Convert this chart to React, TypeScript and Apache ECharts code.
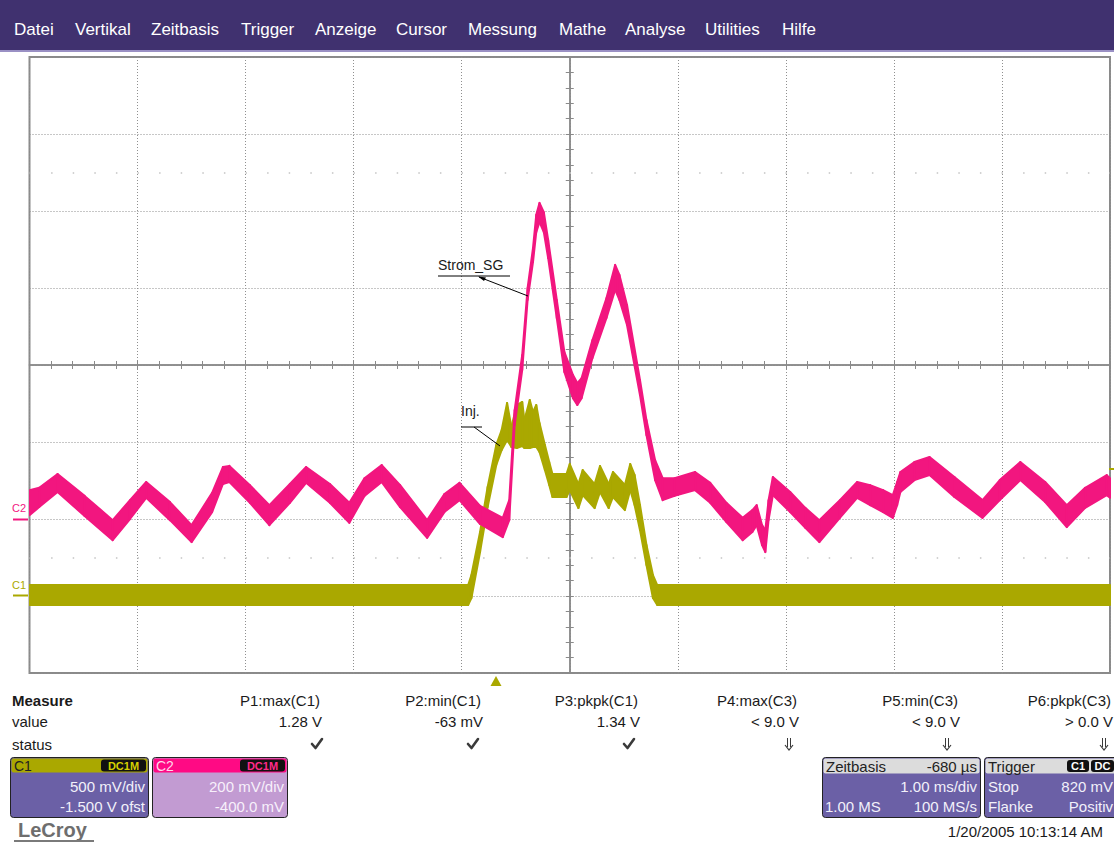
import React, { useEffect, useRef } from 'react';
import * as echarts from 'echarts';

// ---- Data (time in ms relative to screen centre, 1 ms/div; voltages in V) ----
// C2 (Strom_SG) noisy band: upper / lower envelope
const c2Time = [-5.0, -4.91, -4.74, -4.49, -4.23, -4.07, -3.92, -3.70, -3.5, -3.31, -3.21, -3.15, -2.96, -2.78, -2.59, -2.44, -2.22, -2.04, -1.90, -1.74, -1.57, -1.32, -1.16, -1.02, -0.83, -0.62, -0.56, -0.51, -0.44, -0.39, -0.34, -0.31, -0.28, -0.24, -0.20, -0.12, -0.05, 0.03, 0.07, 0.11, 0.21, 0.34, 0.42, 0.46, 0.53, 0.65, 0.71, 0.79, 0.86, 0.97, 1.16, 1.30, 1.45, 1.60, 1.69, 1.73, 1.78, 1.81, 1.84, 1.88, 2.04, 2.18, 2.31, 2.5, 2.66, 2.78, 2.90, 2.99, 3.03, 3.06, 3.19, 3.33, 3.56, 3.82, 3.98, 4.17, 4.40, 4.60, 4.77, 4.97, 5.0];
const c2Upper = [0.075, 0.081, 0.117, 0.060, -0.003, 0.049, 0.096, 0.044, -0.016, 0.068, 0.135, 0.138, 0.088, 0.036, 0.091, 0.135, 0.091, 0.042, 0.106, 0.140, 0.088, -0.003, 0.065, 0.094, 0.034, 0.003, 0.049, 0.283, 0.426, 0.600, 0.704, 0.790, 0.821, 0.797, 0.725, 0.569, 0.434, 0.374, 0.353, 0.366, 0.465, 0.574, 0.660, 0.634, 0.556, 0.361, 0.257, 0.153, 0.106, 0.106, 0.122, 0.094, 0.042, 0.003, 0.023, 0.036, -0.016, -0.029, 0.049, 0.109, 0.070, 0.029, -0.003, 0.049, 0.096, 0.088, 0.075, 0.062, 0.096, 0.122, 0.148, 0.161, 0.109, 0.049, 0.101, 0.148, 0.096, 0.036, 0.081, 0.114, 0.106];
const c2Lower = [0.010, 0.031, 0.070, 0.008, -0.055, 0.000, 0.055, -0.003, -0.060, 0.018, 0.091, 0.096, 0.042, -0.016, 0.042, 0.094, 0.042, -0.010, 0.060, 0.096, 0.031, -0.049, 0.018, 0.049, -0.013, -0.047, -0.003, 0.244, 0.387, 0.569, 0.668, 0.745, 0.771, 0.745, 0.678, 0.522, 0.382, 0.314, 0.296, 0.314, 0.418, 0.522, 0.595, 0.569, 0.504, 0.322, 0.218, 0.101, 0.049, 0.060, 0.075, 0.042, -0.008, -0.055, -0.034, -0.016, -0.068, -0.086, -0.003, 0.062, 0.018, -0.023, -0.060, 0.003, 0.055, 0.036, 0.018, 0.003, 0.036, 0.070, 0.101, 0.114, 0.057, 0.003, 0.049, 0.101, 0.044, -0.021, 0.029, 0.062, 0.055];

// C1 (Inj.) noisy band: upper / lower envelope
const c1Time = [-5.0, -0.94, -0.91, -0.83, -0.76, -0.68, -0.63, -0.58, -0.54, -0.49, -0.44, -0.42, -0.37, -0.34, -0.31, -0.28, -0.23, -0.19, -0.16, -0.03, 0.0, 0.08, 0.12, 0.23, 0.28, 0.36, 0.40, 0.51, 0.56, 0.60, 0.65, 0.71, 0.77, 0.81, 5.0];
const c1Upper = [0.071, 0.071, 0.136, 0.416, 0.708, 0.981, 1.078, 1.253, 1.097, 1.240, 1.260, 1.143, 1.273, 1.195, 1.240, 1.123, 0.981, 0.870, 0.792, 0.792, 0.857, 0.727, 0.818, 0.727, 0.844, 0.727, 0.805, 0.721, 0.857, 0.786, 0.591, 0.331, 0.136, 0.071, 0.071];
const c1Lower = [-0.058, -0.058, -0.013, 0.286, 0.578, 0.851, 0.948, 1.013, 0.968, 0.961, 0.974, 0.961, 0.961, 0.968, 0.968, 0.935, 0.818, 0.721, 0.643, 0.643, 0.688, 0.571, 0.656, 0.571, 0.675, 0.571, 0.643, 0.558, 0.688, 0.591, 0.429, 0.201, -0.013, -0.058, -0.058];

// Channel scales: volts per division and ground position (divisions from centre)
const c1VoltsPerDiv = 0.5;
const c1GroundDiv = -3;
const c2VoltsPerDiv = 0.2;
const c2GroundDiv = -2;

// Texts
const menuItems = ['Datei', 'Vertikal', 'Zeitbasis', 'Trigger', 'Anzeige', 'Cursor', 'Messung', 'Mathe', 'Analyse', 'Utilities', 'Hilfe'];
const measureNames = ['P1:max(C1)', 'P2:min(C1)', 'P3:pkpk(C1)', 'P4:max(C3)', 'P5:min(C3)', 'P6:pkpk(C3)'];
const measureValues = ['1.28 V', '-63 mV', '1.34 V', '< 9.0 V', '< 9.0 V', '> 0.0 V'];
const measureStatus = ['ok', 'ok', 'ok', 'under', 'under', 'under'];

// ---- Layout (pixels) ----
const menuX = [14, 75, 151, 241, 315, 396, 468, 559, 625, 705, 782];
const measureRight = [320, 481, 638, 797, 958, 1111];
const statusX = [317, 473, 629, 789, 947, 1104];

const FONT = '"Liberation Sans", Arial, sans-serif';
const C1_COLOR = '#aaa800';
const C2_COLOR = '#f2167f';
const BOX_BODY = '#6b60a6';

function bandSeries(name: string, time: number[], lower: number[], upper: number[], vpd: number, gnd: number, color: string, z: number) {
  const data = time.map((t, i) => [t, lower[i] / vpd + gnd, upper[i] / vpd + gnd]);
  return {
    type: 'custom',
    name,
    data,
    clip: true,
    z,
    silent: true,
    encode: { x: 0, y: [1, 2] },
    renderItem: (params: any, api: any) => {
      const i = params.dataIndex;
      if (i >= data.length - 1) return null;
      const a = data[i];
      const b = data[i + 1];
      const pts = [
        api.coord([a[0], a[1]]),
        api.coord([b[0], b[1]]),
        api.coord([b[0], b[2]]),
        api.coord([a[0], a[2]]),
      ];
      return {
        type: 'polygon',
        shape: { points: pts },
        style: { fill: color, stroke: color, lineWidth: 2, lineJoin: 'round' },
      };
    },
  };
}

function txt(x: number, y: number, text: string, opts: any = {}) {
  return {
    type: 'text',
    z: opts.z ?? 20,
    style: {
      x,
      y,
      text,
      fill: opts.fill ?? '#1a1a1a',
      font: `${opts.weight ?? 'normal'} ${opts.size ?? 15}px ${opts.family ?? FONT}`,
      textAlign: opts.align ?? 'left',
      textVerticalAlign: 'middle',
    },
  };
}

function rect(x: number, y: number, w: number, h: number, fill: string, r = 0, stroke?: string, z = 15) {
  return {
    type: 'rect',
    z,
    shape: { x, y, width: w, height: h, r },
    style: { fill, stroke: stroke ?? null, lineWidth: stroke ? 1 : 0 },
  };
}

function line(x1: number, y1: number, x2: number, y2: number, stroke: string, w = 1, z = 20) {
  return { type: 'line', z, shape: { x1, y1, x2, y2 }, style: { stroke, lineWidth: w } };
}

function statusIcon(kind: string, x: number, y: number) {
  const c = '#3a3a3a';
  if (kind === 'ok') {
    return [{
      type: 'polyline', z: 20,
      shape: { points: [[x - 5, y], [x - 1.5, y + 4], [x + 5, y - 5]] },
      style: { stroke: c, lineWidth: 2.6, fill: null, lineCap: 'round', lineJoin: 'round' },
    }];
  }
  return [
    line(x - 1.5, y - 6, x - 1.5, y + 3, c, 1),
    line(x + 1.5, y - 6, x + 1.5, y + 3, c, 1),
    { type: 'polyline', z: 20, shape: { points: [[x - 4, y + 1], [x, y + 6], [x + 4, y + 1]] }, style: { stroke: c, lineWidth: 1.2, fill: null } },
  ];
}

function buildGraphics() {
  const g: any[] = [];
  // header bar
  g.push(rect(0, 0, 1114, 50, '#40316f', 0, undefined, 5));
  g.push(rect(0, 50, 1114, 2, '#9a90c4', 0, undefined, 5));
  menuItems.forEach((m, i) => g.push(txt(menuX[i], 29, m, { fill: '#ffffff', size: 17 })));

  // channel ground markers on the left
  g.push(txt(12, 508, 'C2', { fill: C2_COLOR, size: 11 }));
  g.push(line(13, 519.5, 28, 519.5, C2_COLOR, 2));
  g.push(txt(12, 585, 'C1', { fill: C1_COLOR, size: 11 }));
  g.push(line(13, 595.5, 28, 595.5, C1_COLOR, 2));
  // trigger level marker (right) and trigger position (bottom)
  g.push(line(1109, 469, 1114, 469, C1_COLOR, 2));
  g.push({ type: 'polygon', z: 20, shape: { points: [[496, 676], [490.5, 686], [501.5, 686]] }, style: { fill: C1_COLOR } });

  // annotations
  g.push(txt(438, 265, 'Strom_SG', { size: 14 }));
  g.push(line(438, 276, 510, 276, '#000'));
  g.push(line(479, 277, 528, 296, '#000'));
  g.push({ type: 'polygon', z: 20, shape: { points: [[478, 276.5], [486, 277.5], [484, 281]] }, style: { fill: '#000' } });
  g.push(txt(461, 411, 'Inj.', { size: 14 }));
  g.push(line(461, 427, 482, 427, '#000'));
  g.push(line(474, 427, 500, 446, '#000'));

  // measurement table
  g.push(txt(12, 700, 'Measure', { weight: 'bold', size: 15 }));
  g.push(txt(12, 721, 'value', { size: 15 }));
  g.push(txt(12, 744, 'status', { size: 15 }));
  measureNames.forEach((n, i) => {
    g.push(txt(measureRight[i], 700, n, { align: 'right' }));
    g.push(txt(measureRight[i] + 2, 721, measureValues[i], { align: 'right' }));
    statusIcon(measureStatus[i], statusX[i], 744).forEach((e) => g.push(e));
  });

  // C1 box
  g.push(rect(10.5, 757.5, 138, 60, BOX_BODY, 3, '#222'));
  g.push(rect(11.5, 758.5, 136, 14, C1_COLOR, 2));
  g.push(txt(14, 765.5, 'C1', { size: 14, fill: '#222' }));
  g.push(rect(101, 759.5, 45, 12, '#111', 3));
  g.push(txt(123.5, 766, 'DC1M', { size: 11, weight: 'bold', fill: '#d4d000', align: 'center' }));
  g.push(txt(145, 786, '500 mV/div', { align: 'right', fill: '#f2f0fa' }));
  g.push(txt(145, 806, '-1.500 V ofst', { align: 'right', fill: '#f2f0fa' }));

  // C2 box
  g.push(rect(152.5, 757.5, 135, 60, '#c29bd2', 3, '#222'));
  g.push(rect(153.5, 758.5, 133, 14, '#ff0a84', 2));
  g.push(txt(156, 765.5, 'C2', { size: 14, fill: '#ffd8ea' }));
  g.push(rect(240, 759.5, 45, 12, '#111', 3));
  g.push(txt(262.5, 766, 'DC1M', { size: 11, weight: 'bold', fill: '#ff2a8a', align: 'center' }));
  g.push(txt(284, 786, '200 mV/div', { align: 'right', fill: '#f7f0fb' }));
  g.push(txt(284, 806, '-400.0 mV', { align: 'right', fill: '#f7f0fb' }));

  // Zeitbasis box
  g.push(rect(822.5, 757.5, 158, 60, BOX_BODY, 3, '#222'));
  g.push(rect(823.5, 758.5, 156, 15, '#dcdcdc', 2));
  g.push(txt(826, 766, 'Zeitbasis', { size: 15, fill: '#222' }));
  g.push(txt(977, 766, '-680 µs', { size: 15, fill: '#222', align: 'right' }));
  g.push(txt(977, 786, '1.00 ms/div', { align: 'right', fill: '#f2f0fa' }));
  g.push(txt(825, 806, '1.00 MS', { fill: '#f2f0fa' }));
  g.push(txt(977, 806, '100 MS/s', { align: 'right', fill: '#f2f0fa' }));

  // Trigger box
  g.push(rect(984.5, 757.5, 140, 60, BOX_BODY, 3, '#222'));
  g.push(rect(985.5, 758.5, 140, 15, '#dcdcdc', 2));
  g.push(txt(988, 766, 'Trigger', { size: 15, fill: '#222' }));
  g.push(rect(1067, 760, 22, 12, '#111', 3));
  g.push(txt(1078, 766, 'C1', { size: 11, weight: 'bold', fill: '#ffffff', align: 'center' }));
  g.push(rect(1091, 760, 23, 12, '#111', 3));
  g.push(txt(1102.5, 766, 'DC', { size: 11, weight: 'bold', fill: '#ffffff', align: 'center' }));
  g.push(txt(988, 786, 'Stop', { fill: '#f2f0fa' }));
  g.push(txt(1113, 786, '820 mV', { align: 'right', fill: '#f2f0fa' }));
  g.push(txt(988, 806, 'Flanke', { fill: '#f2f0fa' }));
  g.push(txt(1113, 806, 'Positiv', { align: 'right', fill: '#f2f0fa' }));

  // logo and date
  g.push(txt(18, 830, 'LeCroy', { size: 20, fill: '#6e6e6e', weight: 'bold' }));
  g.push(line(14, 841, 94, 841, '#7a7a7a', 2));
  g.push(txt(1103, 831, '1/20/2005 10:13:14 AM', { align: 'right', size: 15 }));
  return g;
}

export default function App() {
  const ref = useRef<HTMLDivElement>(null);
  useEffect(() => {
    document.body.style.margin = '0';
    if (!ref.current) return;
    const chart = echarts.init(ref.current, undefined, { renderer: 'svg' });
    const gridAxisX = {
      type: 'value', min: -5, max: 5, interval: 1, position: 'bottom',
      axisLine: { show: false, onZero: false }, axisTick: { show: false }, axisLabel: { show: false },
      splitLine: { show: true, lineStyle: { color: '#8f8f8f', type: [1, 2], width: 1 } },
    };
    const gridAxisY = {
      type: 'value', min: -4, max: 4, interval: 1, position: 'left',
      axisLine: { show: false, onZero: false }, axisTick: { show: false }, axisLabel: { show: false },
      splitLine: { show: true, lineStyle: { color: '#8f8f8f', type: [1, 2], width: 1 } },
    };
    const tickAxisX = (inside: boolean) => ({
      type: 'value', min: -5, max: 5, interval: 0.2, position: 'bottom',
      axisLine: { show: true, onZero: true, lineStyle: { color: '#8a8a8a', width: 1.5 } },
      axisTick: { show: true, inside, length: 4, lineStyle: { color: '#8a8a8a', width: 1 } },
      axisLabel: { show: false }, splitLine: { show: false },
    });
    const tickAxisY = (inside: boolean) => ({
      type: 'value', min: -4, max: 4, interval: 0.2, position: 'left',
      axisLine: { show: true, onZero: true, lineStyle: { color: '#8a8a8a', width: 1.5 } },
      axisTick: { show: true, inside, length: 4, lineStyle: { color: '#8a8a8a', width: 1 } },
      axisLabel: { show: false }, splitLine: { show: false },
    });
    const option: any = {
      animation: false,
      backgroundColor: '#ffffff',
      grid: { left: 29.5, top: 57, right: 4, bottom: 170, show: true, borderColor: '#8a8a8a', borderWidth: 2, backgroundColor: '#ffffff' },
      xAxis: [gridAxisX, tickAxisX(false), tickAxisX(true)],
      yAxis: [gridAxisY, tickAxisY(false), tickAxisY(true)],
      series: [
        {
          type: 'line', data: [], silent: true, xAxisIndex: 0, yAxisIndex: 0,
          markLine: {
            silent: true, symbol: 'none', label: { show: false },
            lineStyle: { color: '#c4c4c4', type: [1.5, 20.1], width: 1.5 },
            data: [{ yAxis: 2.5 }, { yAxis: -2.5 }],
          },
        },
        bandSeries('C1', c1Time, c1Lower, c1Upper, c1VoltsPerDiv, c1GroundDiv, C1_COLOR, 3),
        bandSeries('C2', c2Time, c2Lower, c2Upper, c2VoltsPerDiv, c2GroundDiv, C2_COLOR, 4),
      ],
      graphic: buildGraphics(),
    };
    chart.setOption(option);
    return () => chart.dispose();
  }, []);
  return <div ref={ref} style={{ position: 'absolute', left: 0, top: 0, width: 1114, height: 843 }} />;
}
